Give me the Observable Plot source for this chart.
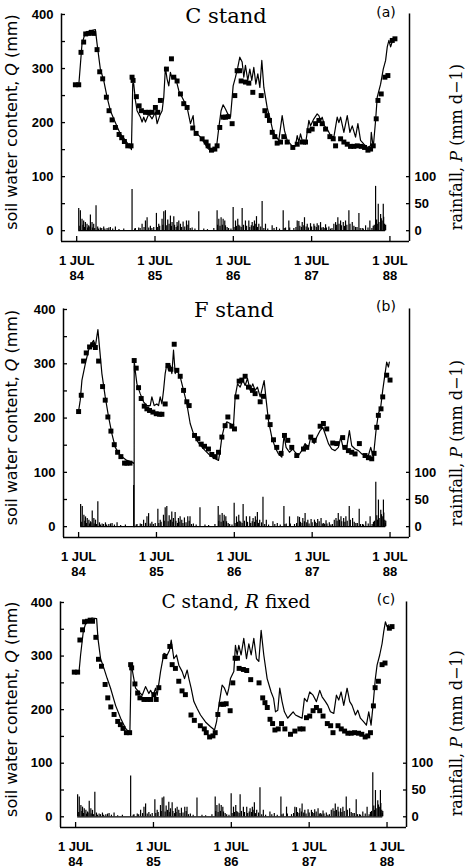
<!DOCTYPE html>
<html><head><meta charset="utf-8">
<script src="https://cdn.jsdelivr.net/npm/d3@7"></script>
<script src="https://cdn.jsdelivr.net/npm/@observablehq/plot@0.6"></script>
<style>
body{margin:0;background:#fff;}
#root{position:relative;width:470px;height:868px;overflow:hidden;background:#fff;}
.panel{position:absolute;left:0;width:470px;height:290px;}
</style></head><body><div id="root"></div>
<script>
// x values are decimal years: 84.5 = 1 JUL 84
const xTicks = [84.5, 85.5, 86.5, 87.5, 88.5];
const xTickLabels = ["1 JUL\n84", "1 JUL\n85", "1 JUL\n86", "1 JUL\n87", "1 JUL\n88"];
const qTicks = [0, 100, 200, 300, 400];
const qMinorTicks = [0, 50, 100, 150, 200, 250, 300, 350, 400];
const rainTicks = [0, 50, 100];
const xDomain = [84.306, 88.75];
const yDomain = [-20, 400];

// daily rainfall P (mm d-1): [time, mm]
const rainfall = [
 [84.526,41],[84.540,8],[84.547,37],[84.568,21],[84.580,10],[84.589,18],[84.600,6],[84.611,15],[84.632,12],[84.640,5],[84.653,9],[84.660,7],[84.675,29],[84.696,15],[84.700,5],[84.717,12],[84.730,4],[84.747,46],[84.768,7],[84.780,3],[84.802,5],[84.820,4],[84.845,7],[84.860,3],[84.888,4],[84.910,5],[84.930,6],[84.960,3],[84.994,7],[85.040,2],[85.101,3],
 [85.207,76],[85.240,3],[85.250,4],[85.292,5],[85.310,4],[85.335,12],[85.360,6],[85.378,18],[85.399,24],[85.420,5],[85.441,8],[85.460,4],[85.484,6],[85.518,32],[85.530,6],[85.548,12],[85.560,8],[85.590,21],[85.600,10],[85.612,35],[85.633,37],[85.650,9],[85.663,20],[85.680,12],[85.697,27],[85.710,8],[85.718,15],[85.740,26],[85.750,10],[85.770,6],[85.782,15],[85.790,8],[85.804,18],[85.825,12],[85.840,6],[85.859,16],[85.880,7],[85.902,18],[85.920,10],[85.931,18],[85.950,4],[85.974,5],[86.010,3],[86.059,35],[86.123,3],[86.170,2],[86.251,4],
 [86.293,37],[86.300,10],[86.315,21],[86.330,8],[86.344,24],[86.360,10],[86.370,21],[86.391,18],[86.400,9],[86.421,6],[86.440,4],[86.470,3],[86.498,43],[86.510,6],[86.528,18],[86.540,8],[86.557,21],[86.570,10],[86.583,8],[86.600,6],[86.613,41],[86.630,10],[86.655,18],[86.670,8],[86.698,18],[86.710,6],[86.730,9],[86.741,15],[86.760,8],[86.770,18],[86.780,12],[86.796,26],[86.810,6],[86.826,12],[86.850,7],[86.868,54],[86.890,4],[86.911,12],[86.940,3],[86.996,9],[87.020,4],[87.052,6],[87.090,3],
 [87.137,37],[87.150,4],[87.167,5],[87.209,18],[87.220,5],[87.273,4],[87.300,6],[87.316,18],[87.337,17],[87.350,8],[87.370,6],[87.380,15],[87.400,9],[87.409,24],[87.430,7],[87.444,12],[87.460,5],[87.486,13],[87.500,7],[87.529,12],[87.540,8],[87.560,6],[87.571,13],[87.590,9],[87.614,15],[87.630,5],[87.648,6],[87.660,4],[87.678,11],[87.690,5],[87.720,7],[87.740,3],[87.760,4],[87.784,12],[87.806,15],[87.820,10],[87.835,24],[87.850,12],[87.870,18],[87.880,9],[87.904,15],[87.920,8],[87.933,18],[87.950,10],[87.976,37],[87.990,12],[88.019,15],[88.040,8],[88.061,6],[88.080,6],[88.104,32],[88.120,4],[88.146,4],[88.160,3],[88.189,9],[88.220,5],[88.244,18],[88.270,4],[88.287,8],[88.300,10],[88.317,82],[88.330,20],[88.338,12],[88.351,49],[88.360,15],[88.381,30],[88.390,22],[88.400,18],[88.415,49],[88.420,25],[88.432,12],[88.440,6],[88.445,10]
];

// C stand: observed soil water content Q (mm)
const cObserved = [
 [84.483,270],[84.526,270],[84.555,330],[84.589,349],[84.615,364],[84.653,365],[84.687,367],[84.717,365],[84.760,335],[84.794,294],[84.832,281],[84.879,247],[84.913,222],[84.952,205],[84.994,191],[85.041,178],[85.075,172],[85.109,165],[85.152,157],[85.194,157],[85.207,284],[85.220,278],[85.262,248],[85.297,231],[85.326,222],[85.378,219],[85.420,219],[85.463,219],[85.505,228],[85.535,219],[85.569,241],[85.646,299],[85.710,318],[85.740,284],[85.782,277],[85.825,253],[85.867,235],[85.910,228],[85.982,190],[86.025,180],[86.102,170],[86.153,164],[86.178,157],[86.221,149],[86.264,151],[86.293,157],[86.327,191],[86.370,210],[86.400,210],[86.434,211],[86.485,198],[86.519,250],[86.549,296],[86.579,296],[86.600,277],[86.655,275],[86.698,273],[86.749,256],[86.856,250],[86.903,222],[86.932,213],[86.962,204],[86.997,182],[87.030,174],[87.060,162],[87.103,164],[87.145,174],[87.188,164],[87.260,154],[87.316,160],[87.380,164],[87.422,164],[87.465,185],[87.507,188],[87.550,198],[87.593,204],[87.635,198],[87.678,188],[87.733,174],[87.776,170],[87.806,157],[87.870,170],[87.912,164],[87.955,160],[87.997,156],[88.040,156],[88.083,157],[88.134,156],[88.176,154],[88.219,149],[88.253,151],[88.287,157],[88.325,207],[88.347,241],[88.389,253],[88.436,284],[88.474,287],[88.530,352],[88.564,355]
];
// C stand: modelled Q (mm)
const cModel = [
 [84.483,268],[84.526,268],[84.568,346],[84.611,367],[84.675,370],[84.739,372],[84.760,346],[84.802,299],[84.845,278],[84.888,247],[84.930,222],[84.973,207],[85.015,193],[85.058,179],[85.122,167],[85.186,154],[85.199,150],[85.216,272],[85.228,272],[85.250,241],[85.271,222],[85.314,210],[85.335,201],[85.356,210],[85.378,201],[85.420,216],[85.463,207],[85.505,219],[85.527,198],[85.561,213],[85.591,222],[85.612,247],[85.633,302],[85.654,281],[85.676,268],[85.697,293],[85.718,281],[85.761,284],[85.804,259],[85.846,247],[85.867,241],[85.910,228],[85.953,198],[85.987,213],[86.008,179],[86.038,179],[86.080,173],[86.123,164],[86.166,154],[86.208,148],[86.251,147],[86.285,154],[86.315,191],[86.344,222],[86.370,233],[86.400,225],[86.430,216],[86.464,210],[86.498,268],[86.528,284],[86.557,302],[86.583,321],[86.613,312],[86.634,284],[86.655,306],[86.685,278],[86.711,299],[86.736,278],[86.762,302],[86.788,271],[86.813,290],[86.839,265],[86.864,315],[86.890,265],[86.932,228],[86.975,204],[87.009,182],[87.052,173],[87.081,167],[87.124,213],[87.154,185],[87.188,167],[87.231,160],[87.265,154],[87.294,157],[87.316,176],[87.337,164],[87.358,179],[87.380,167],[87.422,160],[87.465,204],[87.486,194],[87.529,207],[87.571,216],[87.593,213],[87.614,204],[87.635,210],[87.665,194],[87.699,188],[87.742,176],[87.784,173],[87.827,210],[87.848,200],[87.870,210],[87.912,182],[87.955,213],[87.989,182],[88.019,194],[88.061,173],[88.091,198],[88.125,167],[88.168,160],[88.210,154],[88.253,157],[88.262,182],[88.287,154],[88.317,204],[88.338,247],[88.381,271],[88.415,299],[88.445,315],[88.466,340],[88.487,352],[88.509,340],[88.530,350]
];
// F stand: observed Q (mm)
const fObserved = [
 [84.500,212],[84.534,242],[84.564,305],[84.598,320],[84.641,331],[84.680,335],[84.715,330],[84.757,305],[84.808,258],[84.842,233],[84.876,202],[84.915,176],[84.958,151],[85.001,137],[85.043,129],[85.090,117],[85.120,117],[85.160,117],[85.214,306],[85.240,292],[85.270,256],[85.304,236],[85.343,222],[85.377,217],[85.411,214],[85.454,211],[85.497,208],[85.540,207],[85.570,207],[85.612,226],[85.647,297],[85.685,290],[85.728,336],[85.762,288],[85.805,277],[85.848,251],[85.890,230],[85.920,223],[85.989,168],[86.032,162],[86.075,152],[86.117,148],[86.168,143],[86.211,133],[86.254,129],[86.297,137],[86.340,165],[86.382,186],[86.417,202],[86.468,185],[86.502,180],[86.532,239],[86.562,268],[86.596,270],[86.639,277],[86.682,257],[86.733,251],[86.767,245],[86.832,230],[86.874,240],[86.930,202],[86.960,188],[87.003,160],[87.045,146],[87.101,135],[87.144,168],[87.187,159],[87.238,146],[87.302,131],[87.388,143],[87.430,146],[87.482,165],[87.525,159],[87.602,185],[87.644,190],[87.687,180],[87.764,154],[87.816,153],[87.892,164],[87.922,146],[87.965,140],[88.008,137],[88.051,134],[88.106,153],[88.179,131],[88.222,127],[88.265,125],[88.295,135],[88.329,183],[88.350,205],[88.384,217],[88.406,239],[88.457,279],[88.500,270]
];
// F stand: modelled Q (mm)
const fModel = [
 [84.500,213],[84.521,233],[84.543,270],[84.586,300],[84.628,325],[84.650,334],[84.693,343],[84.714,331],[84.748,363],[84.770,328],[84.799,282],[84.842,239],[84.885,202],[84.928,171],[84.971,146],[85.035,131],[85.120,122],[85.184,119],[85.212,116],[85.213,0],[85.214,306],[85.227,288],[85.249,263],[85.291,245],[85.334,230],[85.377,223],[85.420,223],[85.441,239],[85.471,223],[85.505,226],[85.527,223],[85.548,239],[85.570,226],[85.591,251],[85.612,282],[85.634,300],[85.655,288],[85.676,297],[85.698,282],[85.719,325],[85.741,282],[85.762,288],[85.805,276],[85.848,251],[85.890,226],[85.933,190],[85.976,171],[86.019,159],[86.061,150],[86.126,140],[86.190,131],[86.254,125],[86.297,122],[86.318,140],[86.340,165],[86.369,183],[86.404,193],[86.447,190],[86.489,186],[86.511,239],[86.541,263],[86.575,257],[86.609,270],[86.639,260],[86.669,273],[86.703,251],[86.737,263],[86.767,251],[86.797,257],[86.832,239],[86.853,251],[86.883,269],[86.909,233],[86.938,196],[86.981,165],[87.024,146],[87.067,134],[87.110,128],[87.139,168],[87.165,146],[87.208,137],[87.251,143],[87.281,137],[87.324,131],[87.366,140],[87.409,153],[87.452,146],[87.482,165],[87.525,153],[87.559,165],[87.602,177],[87.636,183],[87.666,171],[87.709,153],[87.751,143],[87.794,140],[87.837,146],[87.867,165],[87.901,143],[87.944,146],[87.978,177],[88.008,149],[88.051,143],[88.094,140],[88.136,134],[88.179,131],[88.222,131],[88.252,146],[88.286,128],[88.320,177],[88.350,208],[88.380,220],[88.406,251],[88.436,282],[88.457,303],[88.479,294],[88.491,303]
];
// C stand, R fixed: modelled Q (mm)
const cFixedModel = [
 [84.500,269],[84.543,269],[84.564,302],[84.598,345],[84.641,367],[84.714,371],[84.770,370],[84.787,333],[84.821,295],[84.864,277],[84.906,258],[84.949,240],[85.013,208],[85.078,184],[85.142,165],[85.197,156],[85.214,286],[85.240,264],[85.270,240],[85.313,233],[85.356,227],[85.398,243],[85.441,230],[85.463,236],[85.497,227],[85.527,240],[85.548,227],[85.591,271],[85.634,305],[85.676,302],[85.706,311],[85.728,330],[85.762,295],[85.796,302],[85.826,283],[85.869,271],[85.899,258],[85.933,274],[85.955,258],[85.984,240],[86.019,215],[86.061,202],[86.104,190],[86.168,177],[86.233,168],[86.284,162],[86.310,177],[86.340,208],[86.382,246],[86.412,240],[86.447,227],[86.468,240],[86.489,258],[86.532,271],[86.553,320],[86.575,302],[86.596,320],[86.626,302],[86.660,333],[86.695,295],[86.725,323],[86.755,302],[86.789,333],[86.823,295],[86.853,290],[86.883,348],[86.917,302],[86.960,258],[87.011,233],[87.043,221],[87.067,196],[87.097,199],[87.122,240],[87.152,215],[87.182,196],[87.225,184],[87.259,190],[87.294,196],[87.324,190],[87.366,187],[87.409,184],[87.439,221],[87.473,215],[87.507,233],[87.550,227],[87.593,215],[87.636,236],[87.666,224],[87.709,215],[87.739,208],[87.773,196],[87.816,193],[87.850,227],[87.880,218],[87.910,233],[87.944,208],[87.987,240],[88.021,215],[88.051,208],[88.094,190],[88.124,199],[88.158,184],[88.201,177],[88.235,171],[88.265,196],[88.295,171],[88.320,208],[88.350,258],[88.372,283],[88.406,302],[88.436,323],[88.457,345],[88.479,364],[88.500,355],[88.521,358]
];

const panelTitles = [
  [["C stand", false]],
  [["F stand", false]],
  [["C stand, ", false], ["R", true], [" fixed", false]]
];
const panelTags = ["(a)", "(b)", "(c)"];

const layout = [
  {top: 0,   mt: 14, mb: 49, ml: 61, mr: 61, titleX: 226, titleY: 23, titleSize: 21, tagY: 17, obs: cObserved, model: cModel},
  {top: 290, mt: 19, mb: 43, ml: 63, mr: 61, titleX: 234, titleY: 27, titleSize: 21, tagY: 21, obs: fObserved, model: fModel},
  {top: 578, mt: 24, mb: 41, ml: 60, mr: 64, titleX: 236, titleY: 30, titleSize: 18.5, tagY: 26, obs: cObserved, model: cFixedModel}
];

const root = document.getElementById("root");
const rainStart = d3.min(rainfall, d => d[0]);
const rainEnd = d3.max(rainfall, d => d[0]);

layout.forEach((p, k) => {
  const svg = Plot.plot({
    width: 470, height: 290,
    marginTop: p.mt, marginBottom: p.mb, marginLeft: p.ml, marginRight: p.mr,
    x: {type: "linear", domain: xDomain, axis: null},
    y: {type: "linear", domain: yDomain, axis: null},
    style: {fontFamily: "'Liberation Sans', Arial, sans-serif", fontSize: "13px", fontWeight: "bold", color: "#000", background: "#fff", overflow: "visible"},
    marks: [
      Plot.ruleY([0], {x1: rainStart, x2: rainEnd, stroke: "#000", strokeWidth: 1.2}),
      Plot.ruleX(rainfall, {x: d => d[0], y1: 0, y2: d => d[1], stroke: "#000", strokeWidth: 1.2}),
      Plot.line(p.model, {x: d => d[0], y: d => d[1], stroke: "#000", strokeWidth: 1.2, curve: "linear"}),
      Plot.dot(p.obs, {x: d => d[0], y: d => d[1], symbol: "square", r: 2.8, fill: "#000", stroke: "none"}),
      Plot.ruleX(xDomain, {y1: yDomain[0], y2: 401, stroke: "#000", strokeWidth: 1.5}),
      Plot.ruleY([yDomain[0]], {x1: xDomain[0], x2: xDomain[1], stroke: "#000", strokeWidth: 1.5}),
      Plot.axisY({anchor: "left", ticks: qMinorTicks, tickSize: -4, fill: "none", label: null, strokeWidth: 1.3}),
      Plot.axisY({anchor: "left", ticks: qTicks, tickSize: 0, tickPadding: 8, label: null}),
      Plot.axisY({anchor: "right", ticks: rainTicks, tickSize: -4, fill: "none", label: null, strokeWidth: 1.3}),
      Plot.axisY({anchor: "right", ticks: rainTicks, tickSize: 0, tickPadding: 5, label: null}),
      Plot.axisX({anchor: "bottom", ticks: xTicks, tickSize: -5, fill: "none", label: null, strokeWidth: 1.3}),
      Plot.axisX({anchor: "bottom", ticks: xTicks, tickSize: 0, tickPadding: 12, lineHeight: 1.2, label: null,
                  tickFormat: d => xTickLabels[xTicks.indexOf(d)]})
    ]
  });
  const y = svg.scale("y");
  const s = d3.select(svg);
  const t = s.append("text").attr("x", p.titleX).attr("y", p.titleY).attr("text-anchor", "middle")
    .style("font-family", "'DejaVu Serif', serif").style("font-size", p.titleSize + "px").style("font-weight", "normal");
  panelTitles[k].forEach(([str, it]) => t.append("tspan").text(str).style("font-style", it ? "italic" : "normal"));
  s.append("text").attr("x", 386).attr("y", p.tagY).attr("text-anchor", "middle")
    .style("font-family", "'DejaVu Sans', sans-serif").style("font-size", "14px").style("font-weight", "normal").text(panelTags[k]);
  const lt = s.append("text").attr("transform", `translate(17,${y.apply(200)}) rotate(-90)`).attr("text-anchor", "middle")
    .style("font-family", "'DejaVu Sans', sans-serif").style("font-size", "16px").style("font-weight", "normal");
  lt.append("tspan").text("soil water content, ");
  lt.append("tspan").text("Q").style("font-style", "italic");
  lt.append("tspan").text(" (mm)");
  const rt = s.append("text").attr("transform", `translate(462,${y.apply(0)}) rotate(-90)`).attr("text-anchor", "start")
    .style("font-family", "'DejaVu Serif', serif").style("font-size", "16px").style("font-weight", "normal");
  rt.append("tspan").text("rainfall, ");
  rt.append("tspan").text("P").style("font-style", "italic");
  rt.append("tspan").text(" (mm d\u22121)");
  const div = document.createElement("div");
  div.className = "panel";
  div.style.top = p.top + "px";
  div.appendChild(svg);
  root.appendChild(div);
});
</script>
</body></html>
